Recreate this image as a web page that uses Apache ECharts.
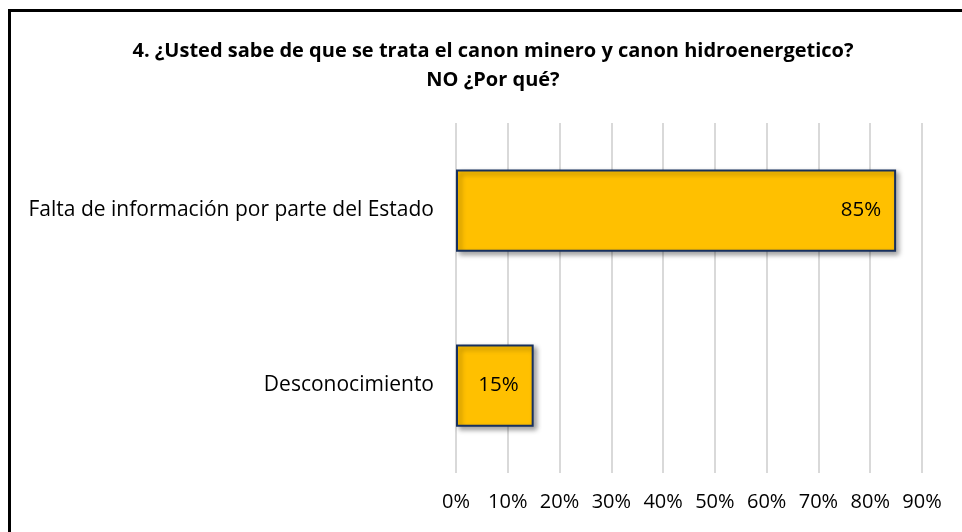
<!DOCTYPE html>
<html>
<head>
<meta charset="utf-8">
<script src="https://cdn.jsdelivr.net/npm/echarts@6/dist/echarts.min.js"></script>
<style>
html,body{margin:0;padding:0;background:#fff;}
#chart{width:962px;height:532px;}
</style>
</head>
<body>
<div id="chart"></div>
<script>
const titleLines = ["4. ¿Usted sabe de que se trata el canon minero y canon hidroenergetico?", "NO ¿Por qué?"];
const categories = ["Desconocimiento", "Falta de información por parte del Estado"];
const values = [15, 85];
const xTicks = [0, 10, 20, 30, 40, 50, 60, 70, 80, 90];

const FONT = "'Open Sans', sans-serif";
const chart = echarts.init(document.getElementById('chart'), null, {renderer: 'canvas'});
chart.setOption({
  backgroundColor: '#ffffff',
  animation: false,
  title: {
    text: titleLines.join('\n'),
    left: 488,
    textAlign: 'center',
    top: 32,
    textStyle: {fontFamily: FONT, fontSize: 20, fontWeight: 'bold', color: '#000', lineHeight: 29}
  },
  graphic: [{
    type: 'rect',
    shape: {x: 9.5, y: 10.5, width: 1000, height: 600},
    style: {fill: 'none', stroke: '#000', lineWidth: 3},
    silent: true, z: 100
  }],
  grid: {left: 456, right: 40, top: 123, bottom: 59, containLabel: false},
  xAxis: {
    type: 'value',
    min: xTicks[0],
    max: xTicks[xTicks.length - 1],
    interval: 10,
    axisLine: {show: false},
    axisTick: {show: false},
    splitLine: {show: true, lineStyle: {color: '#d9d9d9', width: 2}},
    axisLabel: {formatter: '{value}%', fontFamily: FONT, fontSize: 20, color: '#000', margin: 19}
  },
  yAxis: {
    type: 'category',
    data: categories,
    axisLine: {show: false},
    axisTick: {show: false},
    axisLabel: {fontFamily: FONT, fontSize: 21, color: '#000', margin: 22}
  },
  series: [{
    type: 'bar',
    data: values,
    barWidth: '47%',
    itemStyle: {
      color: '#FFC000',
      borderColor: '#17305E',
      borderWidth: 2,
      shadowColor: 'rgba(0,0,0,0.35)',
      shadowBlur: 5,
      shadowOffsetX: 3,
      shadowOffsetY: 3
    },
    label: {
      show: true,
      position: 'insideRight',
      distance: 15,
      formatter: '{c}%',
      fontFamily: FONT,
      fontSize: 20.5,
      color: '#000'
    }
  }]
});
</script>
</body>
</html>
